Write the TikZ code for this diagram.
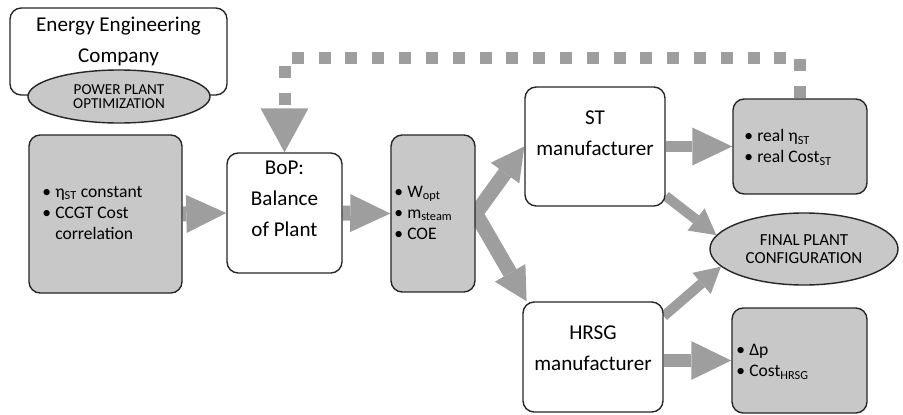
\documentclass[tikz,border=0pt]{standalone}
\usepackage{fontspec}
\setmainfont{Carlito}
\usetikzlibrary{arrows.meta,shapes.geometric,backgrounds,positioning}

\definecolor{arrowgray}{RGB}{158,158,158}
\definecolor{boxgray}{RGB}{200,200,200}
\definecolor{edgegray}{RGB}{38,38,38}

\newcommand{\bigtext}{\fontsize{15}{22}\selectfont}
\newcommand{\itemtext}{\fontsize{12.5}{15}\selectfont}

\begin{document}
\begin{tikzpicture}[x=0.025cm, y=-0.025cm,
  whitebox/.style={draw=edgegray, line width=1pt, fill=white, rounded corners=8pt, shape=rectangle},
  graybox/.style={whitebox, fill=boxgray},
  oval/.style={draw=edgegray, line width=1pt, fill=boxgray, ellipse, inner sep=0pt, align=center},
  itemlist/.style={font=\itemtext, anchor=west, inner sep=0pt},
  fatarrow/.style args={#1/#2/#3}{draw=arrowgray, line width=#1, -{Triangle[width=#2, length=#3, line width=0pt]}},
  feedback/.style={draw=arrowgray, line width=0.3cm, dash pattern=on 0.3cm off 0.37cm, -{Triangle[width=1.2cm, length=1.1cm, line width=0pt]}}
]
\useasboundingbox (0,0) rectangle (903,415);

% company
\node[whitebox, minimum width=5.425cm, minimum height=2.175cm] (company) at (118.5,51.5) {};
\node[align=center, font=\bigtext] (companytxt) at (118.5,41) {Energy Engineering\\Company};
\node[oval, minimum width=4.55cm, minimum height=1.325cm, font=\fontsize{10.8}{10}\selectfont] (ppo) at (119,96.5) {POWER PLANT\\OPTIMIZATION};

% inputs and BoP
\node[graybox, minimum width=3.825cm, minimum height=3.95cm] (inputs) at (105.5,214) {};
\node[itemlist] (inputstxt) at (42,214) {\begin{tabular}{@{}l@{\hspace{3pt}}l@{}}
  \textbullet & η\textsubscript{ST} constant\\
  \textbullet & CCGT Cost\\
   & correlation
\end{tabular}};
\node[whitebox, minimum width=2.875cm, minimum height=3cm] (bop) at (284.5,213) {};
\node[align=center, font=\bigtext] (boptxt) at (284.5,199) {BoP:\\Balance\\of Plant};

\node[graybox, minimum width=2.1cm, minimum height=3.925cm] (results) at (433,213.5) {};
\node[itemlist] (resultstxt) at (394,214) {\begin{tabular}{@{}l@{\hspace{3pt}}l@{}}
  \textbullet & W\textsubscript{opt}\\
  \textbullet & m\textsubscript{steam}\\
  \textbullet & COE
\end{tabular}};

% manufacturers
\node[whitebox, minimum width=3.5cm, minimum height=2.975cm] (st) at (595,146.5) {};
\node[align=center, font=\bigtext] (sttxt) at (595,133) {ST\\manufacturer};
\node[whitebox, minimum width=3.5cm, minimum height=2.75cm] (hrsg) at (593,357) {};
\node[align=center, font=\bigtext] (hrsgtxt) at (593,348) {HRSG\\manufacturer};

% outcomes
\node[graybox, minimum width=3.35cm, minimum height=2.375cm] (realst) at (800,146.5) {};
\node[itemlist] (realsttxt) at (744,148) {\begin{tabular}{@{}l@{\hspace{3pt}}l@{}}
  \textbullet & real η\textsubscript{ST}\\
  \textbullet & real Cost\textsubscript{ST}
\end{tabular}};
\node[graybox, minimum width=3.375cm, minimum height=2.625cm] (hrsgout) at (799.5,360.5) {};
\node[itemlist] (hrsgouttxt) at (736,362) {\begin{tabular}{@{}l@{\hspace{3pt}}l@{}}
  \textbullet & Δp\\
  \textbullet & Cost\textsubscript{HRSG}
\end{tabular}};
\node[oval, minimum width=4.7cm, minimum height=1.8cm, font=\fontsize{12}{12.5}\selectfont] (final) at (804,249) {FINAL PLANT\\CONFIGURATION};

% arrows
\begin{scope}[on background layer]
\draw[fatarrow=0.375cm/0.95cm/1cm] (inputs.east) -- (bop.west);
\draw[fatarrow=0.375cm/0.95cm/1cm] (bop.east) -- (results.west);
\draw[fatarrow=0.37cm/0.88cm/0.82cm] (results.east) -- (st.west);
\draw[fatarrow=0.37cm/0.88cm/0.82cm] (results.east) -- (hrsg.140);
\draw[fatarrow=0.28cm/0.95cm/1cm] (st.east) -- (realst.west);
\draw[fatarrow=0.33cm/0.97cm/1cm] (hrsg.east |- hrsgout.west) -- (hrsgout.west);
\draw[fatarrow=0.25cm/0.7cm/0.64cm] (st.-35) -- (final.171);
\draw[fatarrow=0.25cm/0.7cm/0.64cm] (hrsg.30) -- (final.192);
\end{scope}
\draw[feedback] (realst.north) -- ++(0,-40) -| (bop.north);
\end{tikzpicture}
\end{document}
